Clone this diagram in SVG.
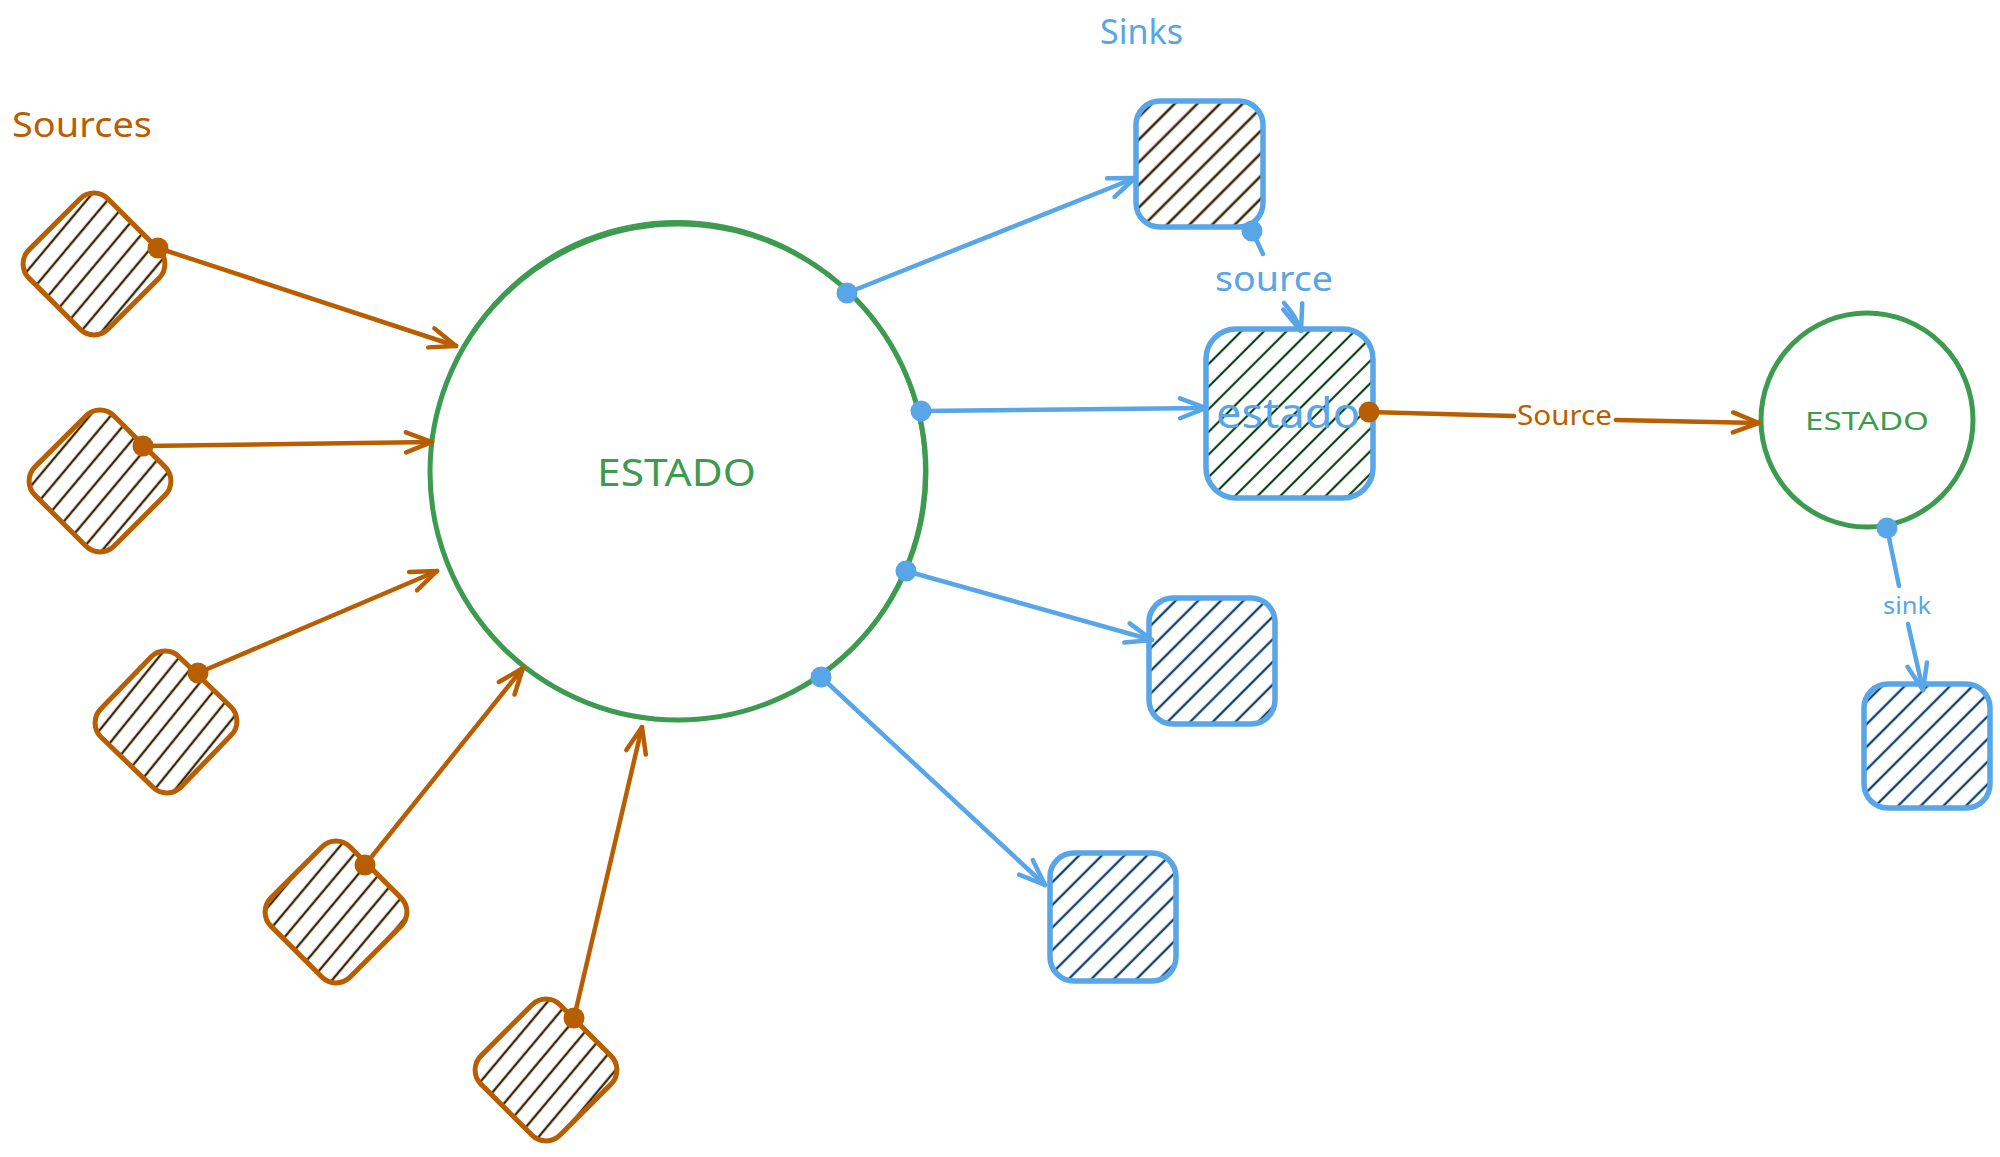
<svg xmlns="http://www.w3.org/2000/svg" width="2000" height="1157" viewBox="0 0 2000 1157">
<style>
.o{fill:none;stroke:#b85e00;stroke-width:4.5;stroke-linecap:round;stroke-linejoin:round}
.b{fill:none;stroke:#58a5e8;stroke-width:4.5;stroke-linecap:round;stroke-linejoin:round}
.bo{stroke:#b85e00;stroke-width:5}
.bb{stroke:#58a5e8;stroke-width:5.5}
.ring{fill:#ffffff;stroke:#3d9b50;stroke-width:5}
.ring2{fill:none;stroke:#3d9b50;stroke-width:2}
.t{font-family:"Noto Sans","Open Sans",sans-serif}
.to{fill:#b85e00}
.tb{fill:#58a5e8}
.tg{fill:#3d9b50}
</style>
<defs>
<pattern id="hSrc" patternUnits="userSpaceOnUse" width="16" height="16" patternTransform="rotate(-5)"><line x1="8" y1="-4" x2="8" y2="20" stroke="#3a2808" stroke-width="2.4"/></pattern>
<pattern id="hBrown" patternUnits="userSpaceOnUse" width="16" height="16" patternTransform="rotate(-45)"><line x1="0" y1="8" x2="16" y2="8" stroke="#3a2808" stroke-width="2.6"/></pattern>
<pattern id="hGreen" patternUnits="userSpaceOnUse" width="16" height="16" patternTransform="rotate(-45)"><line x1="0" y1="8" x2="16" y2="8" stroke="#0c4217" stroke-width="2.2"/></pattern>
<pattern id="hNavy" patternUnits="userSpaceOnUse" width="16" height="16" patternTransform="rotate(-45)"><line x1="0" y1="8" x2="16" y2="8" stroke="#15436a" stroke-width="2.4"/></pattern>
<marker id="arrO" viewBox="-30 -15 34 30" refX="0" refY="0" markerWidth="34" markerHeight="30" markerUnits="userSpaceOnUse" orient="auto" overflow="visible"><path d="M-26,-10 L0,0 L-26,10" fill="none" stroke="#b85e00" stroke-width="4.5" stroke-linecap="round" stroke-linejoin="round"/></marker>
<marker id="arrB" viewBox="-30 -15 34 30" refX="0" refY="0" markerWidth="34" markerHeight="30" markerUnits="userSpaceOnUse" orient="auto" overflow="visible"><path d="M-26,-10 L0,0 L-26,10" fill="none" stroke="#58a5e8" stroke-width="4.5" stroke-linecap="round" stroke-linejoin="round"/></marker>
<marker id="dotO" viewBox="-12 -12 24 24" refX="0" refY="0" markerWidth="24" markerHeight="24" markerUnits="userSpaceOnUse" overflow="visible"><circle r="10.5" fill="#b85e00"/></marker>
<marker id="dotB" viewBox="-12 -12 24 24" refX="0" refY="0" markerWidth="24" markerHeight="24" markerUnits="userSpaceOnUse" overflow="visible"><circle r="10.5" fill="#58a5e8"/></marker>
</defs>
<rect x="0" y="0" width="2000" height="1157" fill="#ffffff"/>

<text class="t to" x="12" y="137" font-size="34" textLength="140" lengthAdjust="spacingAndGlyphs">Sources</text>
<text class="t tb" x="1100" y="44" font-size="34" textLength="83" lengthAdjust="spacingAndGlyphs">Sinks</text>

<g id="estado-main">
<circle class="ring" cx="678" cy="472" r="248"/>
<ellipse class="ring2" cx="677" cy="471" rx="247" ry="250"/>
<text class="t tg" x="597" y="486" font-size="38" textLength="159" lengthAdjust="spacingAndGlyphs">ESTADO</text>
</g>

<g id="source-1" transform="rotate(45 94 264)"><rect class="bo" x="38" y="208" width="112" height="112" rx="20" fill="url(#hSrc)"/></g>
<g id="source-2" transform="rotate(45 100 481)"><rect class="bo" x="44" y="425" width="112" height="112" rx="20" fill="url(#hSrc)"/></g>
<g id="source-3" transform="rotate(44 166 722)"><rect class="bo" x="110" y="666" width="112" height="112" rx="20" fill="url(#hSrc)"/></g>
<g id="source-4" transform="rotate(45 336 912)"><rect class="bo" x="280" y="856" width="112" height="112" rx="20" fill="url(#hSrc)"/></g>
<g id="source-5" transform="rotate(45 546 1070)"><rect class="bo" x="490" y="1014" width="112" height="112" rx="20" fill="url(#hSrc)"/></g>

<g id="sink-1"><rect class="bb" x="1136" y="101" width="127" height="126" rx="24" fill="url(#hBrown)"/></g>
<g id="estado-box"><rect class="bb" x="1206" y="329" width="167" height="169" rx="30" fill="url(#hGreen)"/>
<text class="t tb" x="1216" y="428" font-size="42" textLength="144" lengthAdjust="spacingAndGlyphs">estado</text></g>
<g id="sink-3"><rect class="bb" x="1149" y="598" width="126" height="126" rx="24" fill="url(#hNavy)"/></g>
<g id="sink-4"><rect class="bb" x="1050" y="853" width="126" height="128" rx="24" fill="url(#hNavy)"/></g>

<g id="estado-small">
<ellipse class="ring" cx="1867" cy="420" rx="106" ry="107"/>
<text class="t tg" x="1805" y="430" font-size="25" textLength="124" lengthAdjust="spacingAndGlyphs">ESTADO</text>
</g>
<g id="sink-right"><rect class="bb" x="1864" y="684" width="126" height="124" rx="24" fill="url(#hNavy)"/></g>

<g id="connectors">
<path class="o" d="M158,248 L456,346" marker-start="url(#dotO)" marker-end="url(#arrO)"/>
<path class="o" d="M143,446 L432,442" marker-start="url(#dotO)" marker-end="url(#arrO)"/>
<path class="o" d="M198,673 L437,571" marker-start="url(#dotO)" marker-end="url(#arrO)"/>
<path class="o" d="M365,865 L523,668" marker-start="url(#dotO)" marker-end="url(#arrO)"/>
<path class="o" d="M574,1018 L642,727" marker-start="url(#dotO)" marker-end="url(#arrO)"/>
<path class="o" d="M1369,412 L1514,416" marker-start="url(#dotO)"/>
<path class="o" d="M1616,420 L1759,423" marker-end="url(#arrO)"/>
<text class="t to" x="1517" y="425" font-size="28" textLength="95" lengthAdjust="spacingAndGlyphs">Source</text>

<path class="b" d="M847,293 L1135,178" marker-start="url(#dotB)" marker-end="url(#arrB)"/>
<path class="b" d="M921,411 L1206,408" marker-start="url(#dotB)" marker-end="url(#arrB)"/>
<path class="b" d="M906,571 L1152,640" marker-start="url(#dotB)" marker-end="url(#arrB)"/>
<path class="b" d="M821,677 L1045,885" marker-start="url(#dotB)" marker-end="url(#arrB)"/>
<path class="b" d="M1252,231 L1263,254" marker-start="url(#dotB)"/>
<path class="b" d="M1284,303 Q1296,316 1301,331" marker-end="url(#arrB)"/>
<text class="t tb" x="1215" y="291" font-size="34" textLength="118" lengthAdjust="spacingAndGlyphs">source</text>
<path class="b" d="M1887,528 L1899,586" marker-start="url(#dotB)"/>
<path class="b" d="M1908,624 L1923,690" marker-end="url(#arrB)"/>
<text class="t tb" x="1883" y="614" font-size="24" textLength="48" lengthAdjust="spacingAndGlyphs">sink</text>
</g>
</svg>
